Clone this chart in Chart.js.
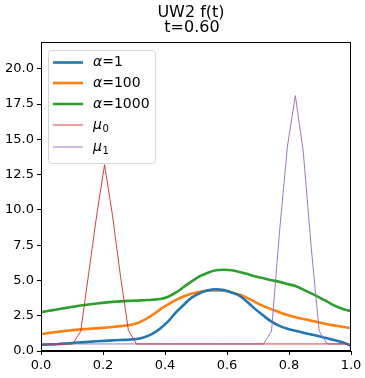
<!DOCTYPE html>
<html>
<head>
<meta charset="utf-8">
<script src="https://cdn.jsdelivr.net/npm/chart.js@4"></script>
<style>
  html, body { margin: 0; padding: 0; background: #fff; }
  #wrap { width: 365px; height: 378px; position: relative; }
</style>
</head>
<body>
<div id="wrap"><canvas id="chart"></canvas></div>
<script>
// x grid: 40 points, k/39
const xs = Array.from({ length: 40 }, (_, k) => k / 39);

const alpha1 = [0.43, 0.46, 0.48, 0.52, 0.57, 0.61, 0.65, 0.69, 0.72, 0.75,
    0.78, 0.80, 0.85, 0.98, 1.22, 1.6, 2.1, 2.75, 3.3, 3.8,
    4.1, 4.3, 4.38, 4.32, 4.15, 3.9, 3.45, 2.95, 2.5, 2.08,
    1.78, 1.57, 1.43, 1.3, 1.17, 1.04, 0.9, 0.76, 0.6, 0.37];
const alpha100 = [1.2, 1.28, 1.35, 1.42, 1.48, 1.53, 1.57, 1.61, 1.65, 1.7,
    1.76, 1.83, 1.95, 2.2, 2.55, 2.95, 3.3, 3.62, 3.88, 4.08,
    4.2, 4.28, 4.3, 4.27, 4.15, 3.98, 3.75, 3.45, 3.18, 2.95,
    2.75, 2.55, 2.4, 2.27, 2.15, 2.02, 1.9, 1.8, 1.7, 1.62];
const alpha1000 = [2.76, 2.85, 2.94, 3.04, 3.13, 3.22, 3.3, 3.37, 3.43, 3.48,
    3.52, 3.55, 3.57, 3.6, 3.63, 3.68, 3.85, 4.15, 4.55, 4.95,
    5.3, 5.55, 5.72, 5.76, 5.72, 5.6, 5.45, 5.28, 5.15, 5.02,
    4.9, 4.75, 4.6, 4.35, 4.08, 3.8, 3.5, 3.2, 2.98, 2.83];
const mu0 = [0.5, 0.5, 0.5, 0.5, 0.5, 1.4, 5.5, 9.6, 13.2, 9.6,
    5.3, 1.45, 0.5, 0.5, 0.5, 0.5, 0.5, 0.5, 0.5, 0.5,
    0.5, 0.5, 0.5, 0.5, 0.5, 0.5, 0.5, 0.5, 0.5, 0.5,
    0.5, 0.5, 0.5, 0.5, 0.5, 0.5, 0.5, 0.5, 0.5, 0.5];
const mu1 = [0.5, 0.5, 0.5, 0.5, 0.5, 0.5, 0.5, 0.5, 0.5, 0.5,
    0.5, 0.5, 0.5, 0.5, 0.5, 0.5, 0.5, 0.5, 0.5, 0.5,
    0.5, 0.5, 0.5, 0.5, 0.5, 0.5, 0.5, 0.5, 0.5, 1.4,
    8.4, 14.5, 18.1, 14.1, 7.3, 1.4, 0.5, 0.5, 0.5, 0.5];

const xTicks = [0, 0.2, 0.4, 0.6, 0.8, 1.0];
const yTicks = [0, 2.5, 5, 7.5, 10, 12.5, 15, 17.5, 20];

const font = "'DejaVu Sans', sans-serif";

function pts(ys) {
    return xs.map((x, i) => ({ x: x, y: ys[i] }));
}

const series = [
    { sym: "α", sub: "", rest: "=1", data: alpha1, color: "#1f77b4", width: 2.6, smooth: true },
    { sym: "α", sub: "", rest: "=100", data: alpha100, color: "#ff7f0e", width: 2.6, smooth: true },
    { sym: "α", sub: "", rest: "=1000", data: alpha1000, color: "#2ca02c", width: 2.6, smooth: true },
    { sym: "μ", sub: "0", rest: "", data: mu0, color: "#d62728", width: 0.9, smooth: false },
    { sym: "μ", sub: "1", rest: "", data: mu1, color: "#9467bd", width: 0.9, smooth: false }
];

// title, frame and legend drawn by hand
const decor = {
    id: "decor",
    afterDraw(chart) {
        const ctx = chart.ctx;
        const a = chart.chartArea;
        ctx.save();
        ctx.strokeStyle = "#000";
        ctx.lineWidth = 1;
        ctx.strokeRect(a.left + 0.5, a.top + 0.5, a.right - a.left - 1, a.bottom - a.top - 1);

        ctx.fillStyle = "#000";
        ctx.font = "16px " + font;
        ctx.textAlign = "center";
        ctx.textBaseline = "alphabetic";
        ctx.fillText("UW2 f(t)", 191, 17);
        ctx.fillText("t=0.60", 192, 32);

        // legend box
        const bx = 48.5, by = 50.5, bw = 107, bh = 113;
        ctx.beginPath();
        ctx.roundRect(bx, by, bw, bh, 3);
        ctx.fillStyle = "rgba(255,255,255,0.8)";
        ctx.fill();
        ctx.strokeStyle = "#d6d6d6";
        ctx.stroke();

        const rows = [62.5, 83, 104, 125, 147];
        ctx.textAlign = "left";
        ctx.textBaseline = "middle";
        series.forEach((s, i) => {
            const y = rows[i];
            ctx.beginPath();
            ctx.moveTo(53, y);
            ctx.lineTo(83, y);
            ctx.strokeStyle = s.color;
            ctx.lineWidth = s.width;
            ctx.stroke();
            ctx.fillStyle = "#000";
            let x = 93;
            ctx.font = "italic 14px " + font;
            ctx.fillText(s.sym, x, y);
            x += ctx.measureText(s.sym).width;
            if (s.sub) {
                ctx.font = "10px " + font;
                ctx.fillText(s.sub, x + 0.5, y + 4);
            } else {
                ctx.font = "14px " + font;
                ctx.fillText(s.rest, x, y);
            }
        });
        ctx.restore();
    }
};

new Chart(document.getElementById("chart"), {
    type: "line",
    data: {
        datasets: series.map((s, i) => ({
            label: s.sym + s.sub + s.rest,
            data: pts(s.data),
            borderColor: s.color,
            borderWidth: s.width,
            pointRadius: 0,
            fill: false,
            tension: s.smooth ? 0.4 : 0,
            cubicInterpolationMode: s.smooth ? "monotone" : "default",
            order: s.smooth ? 1 : 0
        }))
    },
    options: {
        responsive: true,
        maintainAspectRatio: false,
        animation: false,
        events: [],
        layout: { padding: { top: 42, right: 14, left: 0, bottom: 0 } },
        plugins: {
            legend: { display: false },
            title: { display: false },
            tooltip: { enabled: false }
        },
        scales: {
            x: {
                type: "linear",
                min: 0,
                max: 1,
                afterBuildTicks: s => { s.ticks = xTicks.map(v => ({ value: v })); },
                afterFit: s => { s.height = 27; },
                grid: { drawOnChartArea: false, tickLength: 4, color: "#000" },
                border: { color: "#000" },
                ticks: {
                    color: "#000",
                    padding: 3,
                    maxRotation: 0,
                    font: { family: font, size: 13 },
                    callback: v => Number(v).toFixed(1)
                }
            },
            y: {
                type: "linear",
                min: 0,
                max: 21.9,
                afterBuildTicks: s => { s.ticks = yTicks.map(v => ({ value: v })); },
                afterFit: s => { s.width = 41; },
                grid: { drawOnChartArea: false, tickLength: 4, color: "#000" },
                border: { color: "#000" },
                ticks: {
                    color: "#000",
                    padding: 3,
                    font: { family: font, size: 13 },
                    callback: v => Number(v).toFixed(1)
                }
            }
        }
    },
    plugins: [decor]
});
</script>
</body>
</html>
